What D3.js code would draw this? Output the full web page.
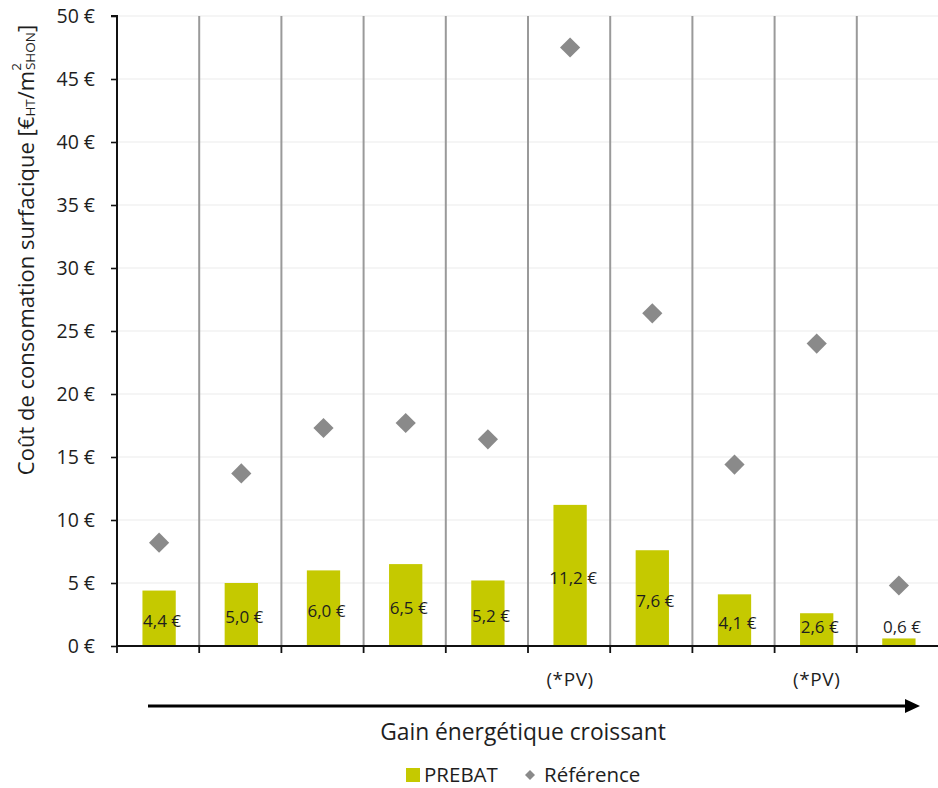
<!DOCTYPE html>
<html>
<head>
<meta charset="utf-8">
<script src="https://cdn.jsdelivr.net/npm/d3@7/dist/d3.min.js"></script>
<style>
  html, body { margin: 0; padding: 0; background: #fff; }
  svg { display: block; font-family: "Open Sans", Lato, sans-serif; }
</style>
</head>
<body>
<svg id="chart" width="938" height="788"></svg>
<script>
// Projects, ordered by increasing energy gain
const projects = ["P1", "P2", "P3", "P4", "P5", "P6", "P7", "P8", "P9", "P10"];
const projectNotes = ["", "", "", "", "", "(*PV)", "", "", "(*PV)", ""];
// Surface consumption cost (€ HT / m² SHON)
const prebatValues = [4.4, 5.0, 6.0, 6.5, 5.2, 11.2, 7.6, 4.1, 2.6, 0.6];
const referenceValues = [8.2, 13.7, 17.3, 17.7, 16.4, 47.5, 26.4, 14.4, 24.0, 4.8];
const yTicks = [0, 5, 10, 15, 20, 25, 30, 35, 40, 45, 50];

const fmt = v => d3.format(".1f")(v).replace(".", ",") + " €";
const FONT = "'Open Sans', Lato, sans-serif";
const TEXT = "#1e1e1e";

const svg = d3.select("#chart");
const x = d3.scaleBand().domain(projects).range([117, 939]).padding(0);
const y = d3.scaleLinear().domain([0, 50]).range([646, 16]);

const barColor = "#c5c900";
const refColor = "#8a8a8a";

// Light horizontal gridlines
svg.append("g").selectAll("line").data(yTicks.filter(t => t > 0)).join("line")
  .attr("x1", 117).attr("x2", 938)
  .attr("y1", d => y(d)).attr("y2", d => y(d))
  .attr("stroke", "#ececec").attr("stroke-width", 1.2);

// Vertical separators between projects
svg.append("g").selectAll("line").data(projects.slice(1)).join("line")
  .attr("x1", d => x(d)).attr("x2", d => x(d))
  .attr("y1", y(50)).attr("y2", y(0))
  .attr("stroke", "#9a9a9a").attr("stroke-width", 2);

// PREBAT bars
const bw = x.bandwidth() * 0.405;
svg.append("g").selectAll("rect").data(projects).join("rect")
  .attr("x", d => x(d) + x.bandwidth() / 2 - bw / 2 + 1)
  .attr("width", bw)
  .attr("y", (d, i) => y(prebatValues[i]))
  .attr("height", (d, i) => y(0) - y(prebatValues[i]))
  .attr("fill", barColor);

// Bar value labels
svg.append("g").selectAll("text").data(projects).join("text")
  .attr("x", d => x(d) + x.bandwidth() / 2 + 4)
  .attr("y", (d, i) => Math.min((y(prebatValues[i]) + y(0)) / 2 + 2, 626))
  .attr("text-anchor", "middle").attr("dominant-baseline", "central")
  .attr("font-size", 17).attr("fill", TEXT)
  .text((d, i) => fmt(prebatValues[i]));

// Reference diamonds
const diamond = d3.symbol().type(d3.symbolDiamond2).size(260);
svg.append("g").selectAll("path").data(projects).join("path")
  .attr("transform", (d, i) => `translate(${x(d) + x.bandwidth() / 2 + 1},${y(referenceValues[i])})`)
  .attr("d", diamond)
  .attr("fill", refColor);

// Y axis
const yAxis = d3.axisLeft(y).tickValues(yTicks).tickSize(6).tickPadding(16)
  .tickFormat(d => d + " €");
const gy = svg.append("g").attr("transform", "translate(117,0)").call(yAxis);
gy.select(".domain").attr("stroke", "#111").attr("stroke-width", 2).attr("d", `M-6,${y(50)}H0V${y(0)}`);
gy.selectAll(".tick line").attr("stroke", "#111").attr("stroke-width", 1.6);
gy.selectAll(".tick text").attr("font-size", 19.5).attr("fill", TEXT)
  .attr("font-family", FONT);

// X axis baseline with boundary ticks
svg.append("line").attr("x1", 117).attr("x2", 938).attr("y1", y(0)).attr("y2", y(0))
  .attr("stroke", "#111").attr("stroke-width", 2.2);
svg.append("g").selectAll("line").data(projects).join("line")
  .attr("x1", d => x(d)).attr("x2", d => x(d))
  .attr("y1", y(0)).attr("y2", y(0) + 7)
  .attr("stroke", "#111").attr("stroke-width", 1.8);

// Category notes
svg.append("g").selectAll("text").data(projects).join("text")
  .attr("x", d => x(d) + x.bandwidth() / 2 + 1)
  .attr("y", 679)
  .attr("text-anchor", "middle").attr("dominant-baseline", "central")
  .attr("font-size", 19).attr("letter-spacing", 0.6).attr("fill", TEXT)
  .text((d, i) => projectNotes[i]);

// Energy gain arrow
svg.append("line").attr("x1", 148).attr("x2", 908).attr("y1", 706).attr("y2", 706)
  .attr("stroke", "#000").attr("stroke-width", 3.2);
svg.append("path").attr("d", "M905,699L920,706L905,713Z").attr("fill", "#000");
svg.append("text").attr("x", 523).attr("y", 731)
  .attr("text-anchor", "middle").attr("dominant-baseline", "central")
  .attr("font-size", 22.8).attr("fill", TEXT)
  .text("Gain énergétique croissant");

// Y axis title
const yt = svg.append("text")
  .attr("transform", "translate(25,250) rotate(-90)")
  .attr("text-anchor", "middle").attr("dominant-baseline", "central")
  .attr("font-size", 22).attr("fill", TEXT);
yt.append("tspan").text("Coût de consomation surfacique [€");
yt.append("tspan").attr("font-size", 13.5).attr("dy", 5).text("HT");
yt.append("tspan").attr("dy", -5).text("/m");
yt.append("tspan").attr("font-size", 13.5).attr("dy", -9).text("2");
yt.append("tspan").attr("font-size", 13.5).attr("dx", -7).attr("dy", 14).text("SHON");
yt.append("tspan").attr("dy", -5).text("]");

// Legend
const lg = svg.append("g");
lg.append("rect").attr("x", 406).attr("y", 768).attr("width", 14).attr("height", 14).attr("fill", barColor);
lg.append("text").attr("x", 424).attr("y", 774).attr("dominant-baseline", "central")
  .attr("font-size", 20.5).attr("fill", TEXT).text("PREBAT");
lg.append("path").attr("transform", "translate(530,775)")
  .attr("d", d3.symbol().type(d3.symbolDiamond2).size(64)).attr("fill", refColor);
lg.append("text").attr("x", 544).attr("y", 774).attr("dominant-baseline", "central")
  .attr("font-size", 20.5).attr("fill", TEXT).text("Référence");
</script>
</body>
</html>
